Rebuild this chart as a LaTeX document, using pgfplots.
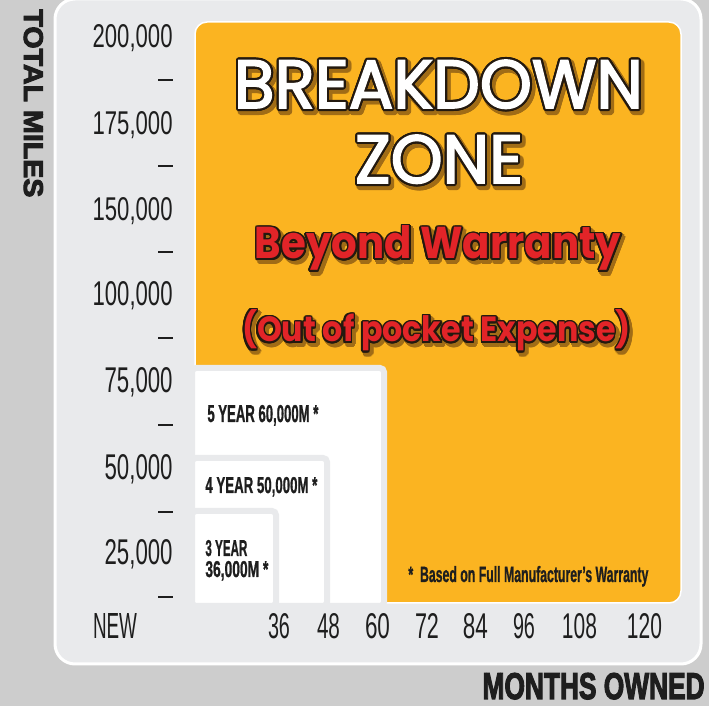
\documentclass[border=0pt]{standalone}
\usepackage{fontspec}
\usepackage{graphicx}
\usepackage{pgfplots}
\pgfplotsset{compat=1.18}
\usepackage{contour}
\setmainfont{Liberation Sans}
\newfontfamily\geo{Poppins}
\newfontfamily\geob{Poppins}[FakeBold=2.5]
\newfontfamily\heavy{Liberation Sans Bold}[FakeBold=3.5]
\newfontfamily\cbold{Liberation Sans Bold}[FakeBold=1.2]
\definecolor{bgray}{RGB}{205,205,205}
\definecolor{panel}{RGB}{233,234,236}
\definecolor{orng}{RGB}{251,180,33}
\definecolor{redt}{RGB}{226,36,40}
\definecolor{ink}{RGB}{30,30,30}
\definecolor{outl}{RGB}{35,25,15}
\definecolor{shad}{RGB}{160,108,22}
\newdimen\px \px=0.5pt
\newcommand{\fit}[3]{\resizebox{#1}{#2}{#3}}
\contournumber{16}
\begin{document}
\begin{tikzpicture}
\begin{axis}[scale only axis, width=709\px, height=706\px,
  xmin=0, xmax=709, ymin=0, ymax=706, y dir=reverse, hide axis, clip=true]
% background and panel
\addplot[fill=bgray, draw=none] coordinates {(0,0)(709,0)(709,706)(0,706)} -- cycle;
\addplot[fill=panel, draw=white, line width=3\px, rounded corners=20\px]
  coordinates {(378,-1)(701,-1)(701,664)(55,664)(55,-1)} -- cycle;
% breakdown zone
\addplot[fill=orng, draw=white, line width=1.5\px, rounded corners=12\px]
  coordinates {(438,22)(681,22)(681,603)(195,603)(195,22)} -- cycle;
% warranty boxes
\addplot[fill=white, draw=panel, line width=6\px, rounded corners=4\px]
  coordinates {(192,606)(192,368)(384,368)(384,606)} -- cycle;
\addplot[fill=white, draw=panel, line width=6\px, rounded corners=4\px]
  coordinates {(192,606)(192,458)(327,458)(327,606)} -- cycle;
\addplot[fill=white, draw=panel, line width=6\px, rounded corners=4\px]
  coordinates {(192,606)(192,511)(276,511)(276,606)} -- cycle;
% minor tick dashes
\addplot[ink, line width=2\px] coordinates {(158,80)(173,80)};
\addplot[ink, line width=2\px] coordinates {(158,166)(173,166)};
\addplot[ink, line width=2\px] coordinates {(158,252)(173,252)};
\addplot[ink, line width=2\px] coordinates {(158,338)(173,338)};
\addplot[ink, line width=2\px] coordinates {(158,425)(173,425)};
\addplot[ink, line width=2\px] coordinates {(158,512)(173,512)};
\addplot[ink, line width=2\px] coordinates {(158,597)(173,597)};
% y tick labels
\node[anchor=base east, inner sep=0, text=ink] at (axis cs:173,48) {\fit{80\px}{23\px}{200,000}};
\node[anchor=base east, inner sep=0, text=ink] at (axis cs:173,135) {\fit{80\px}{23\px}{175,000}};
\node[anchor=base east, inner sep=0, text=ink] at (axis cs:173,220) {\fit{80\px}{23\px}{150,000}};
\node[anchor=base east, inner sep=0, text=ink] at (axis cs:173,306) {\fit{80\px}{24\px}{100,000}};
\node[anchor=base east, inner sep=0, text=ink] at (axis cs:173,393) {\fit{68\px}{25\px}{75,000}};
\node[anchor=base east, inner sep=0, text=ink] at (axis cs:173,480) {\fit{68\px}{25\px}{50,000}};
\node[anchor=base east, inner sep=0, text=ink] at (axis cs:173,565) {\fit{68\px}{25\px}{25,000}};
% x tick labels
\node[anchor=base, inner sep=0, text=ink] at (axis cs:115,639) {\fit{44\px}{25\px}{NEW}};
\node[anchor=base, inner sep=0, text=ink] at (axis cs:279,639) {\fit{22\px}{25\px}{36}};
\node[anchor=base, inner sep=0, text=ink] at (axis cs:328.5,639) {\fit{23\px}{25\px}{48}};
\node[anchor=base, inner sep=0, text=ink] at (axis cs:377.5,639) {\fit{25\px}{25\px}{60}};
\node[anchor=base, inner sep=0, text=ink] at (axis cs:427,639) {\fit{24\px}{25\px}{72}};
\node[anchor=base, inner sep=0, text=ink] at (axis cs:475.5,639) {\fit{25\px}{25\px}{84}};
\node[anchor=base, inner sep=0, text=ink] at (axis cs:524,639) {\fit{22\px}{25\px}{96}};
\node[anchor=base, inner sep=0, text=ink] at (axis cs:579.5,639) {\fit{35\px}{25\px}{108}};
\node[anchor=base, inner sep=0, text=ink] at (axis cs:644.5,639) {\fit{35\px}{25\px}{120}};
% box labels
\node[anchor=base west, inner sep=0, text=ink] at (axis cs:207,422) {\fit{111\px}{17\px}{\cbold 5 YEAR 60,000M *}};
\node[anchor=base west, inner sep=0, text=ink] at (axis cs:205,493) {\fit{112\px}{16\px}{\cbold 4 YEAR 50,000M *}};
\node[anchor=base west, inner sep=0, text=ink] at (axis cs:205,556) {\fit{42\px}{16\px}{\cbold 3 YEAR}};
\node[anchor=base west, inner sep=0, text=ink] at (axis cs:205,577) {\fit{63\px}{16\px}{\cbold 36,000M *}};
\node[anchor=base west, inner sep=0, text=ink] at (axis cs:408,582) {\fit{240\px}{16\px}{\cbold *\ \ Based on Full Manufacturer’s Warranty}};
% axis titles
\node[rotate=-90, anchor=base west, inner sep=0, text=ink] at (axis cs:24,9) {\fit{188\px}{19\px}{\heavy TOTAL MILES}};
\node[anchor=base east, inner sep=0, text=ink] at (axis cs:705,699) {\fit{222\px}{26\px}{\heavy MONTHS OWNED}};
% big texts: shadows
\node[anchor=base, inner sep=0] at (axis cs:441,111) {\contourlength{1.6pt}\textcolor{shad}{\contour{shad}{\fit{409\px}{48\px}{\geob BREAKDOWN}}}};
\node[anchor=base, inner sep=0] at (axis cs:441.5,186) {\contourlength{1.6pt}\textcolor{shad}{\contour{shad}{\fit{168\px}{48\px}{\geob ZONE}}}};
\node[anchor=base, inner sep=0] at (axis cs:440.5,262) {\contourlength{1.3pt}\textcolor{shad}{\contour{shad}{\fit{366\px}{33\px}{\geo\bfseries Beyond Warranty}}}};
\node[anchor=base, inner sep=0] at (axis cs:439,345) {\contourlength{1.3pt}\textcolor{shad}{\contour{shad}{\fit{389\px}{32\px}{\geo\bfseries (Out of pocket Expense)}}}};
% big texts
\node[anchor=base, inner sep=0] at (axis cs:438.5,108) {\contourlength{1.1pt}\textcolor{white}{\contour{outl}{\fit{409\px}{48\px}{\geob BREAKDOWN}}}};
\node[anchor=base, inner sep=0] at (axis cs:439,183) {\contourlength{1.1pt}\textcolor{white}{\contour{outl}{\fit{168\px}{48\px}{\geob ZONE}}}};
\node[anchor=base, inner sep=0] at (axis cs:438,259) {\contourlength{0.8pt}\textcolor{redt}{\contour{outl}{\fit{366\px}{33\px}{\geo\bfseries Beyond Warranty}}}};
\node[anchor=base, inner sep=0] at (axis cs:436.5,342) {\contourlength{0.8pt}\textcolor{redt}{\contour{outl}{\fit{389\px}{32\px}{\geo\bfseries (Out of pocket Expense)}}}};
\end{axis}
\end{tikzpicture}
\end{document}
